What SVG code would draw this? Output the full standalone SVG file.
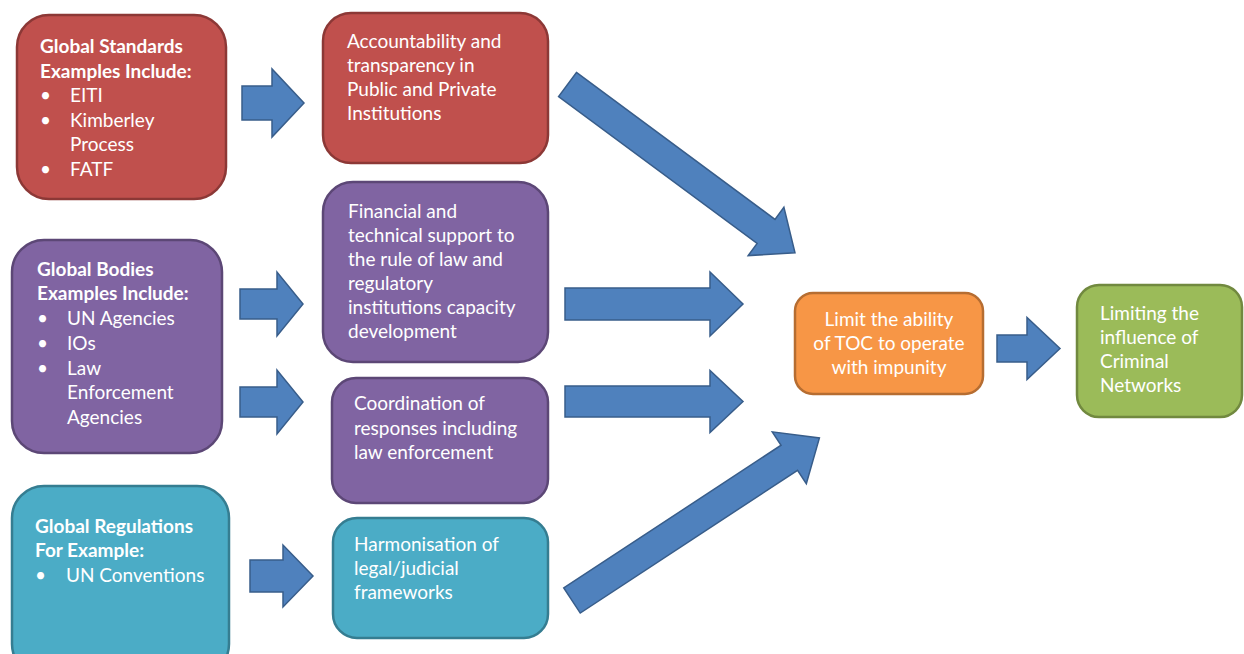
<svg xmlns="http://www.w3.org/2000/svg" width="1244" height="654" viewBox="0 0 1244 654">
<style>
.box{stroke-width:2.5}
.red{fill:#C0504D;stroke:#8C3836}
.pur{fill:#8064A2;stroke:#5C4776}
.teal{fill:#4BACC6;stroke:#357D91}
.org{fill:#F79646;stroke:#B66D31}
.grn{fill:#9BBB59;stroke:#71893F}
text{font-family:Lato,"Liberation Sans",sans-serif;font-size:19px;fill:#FFFFFF}
.b{font-weight:bold}
.c{text-anchor:middle}
.arr{fill:#4F81BD;stroke:#385D8A;stroke-width:1.5;stroke-linejoin:miter}
</style>
<rect width="1244" height="654" fill="#FFFFFF"/>
<g id="connectors">
<polygon class="arr" transform="translate(242,103)" points="0,-17 30,-17 30,-34 62,0 30,34 30,17 0,17"/>
<polygon class="arr" transform="translate(240,304)" points="0,-15 37,-15 37,-32 63,0 37,32 37,15 0,15"/>
<polygon class="arr" transform="translate(240,402)" points="0,-15 37,-15 37,-32 63,0 37,32 37,15 0,15"/>
<polygon class="arr" transform="translate(250,576)" points="0,-16 33,-16 33,-31 63,0 33,31 33,16 0,16"/>
<polygon class="arr" transform="translate(565,304)" points="0,-16 145,-16 145,-32 178,0 145,32 145,16 0,16"/>
<polygon class="arr" transform="translate(565,401.5)" points="0,-15.5 145,-15.5 145,-31 178,0 145,31 145,15.5 0,15.5"/>
<polygon class="arr" transform="translate(997,348.5)" points="0,-13.5 30,-13.5 30,-31 63,0 30,31 30,13.5 0,13.5"/>
<polygon class="arr" transform="translate(567.5,84.5) rotate(36.5)" points="0,-15 247,-15 247,-30 283,0 247,30 247,15 0,15"/>
<polygon class="arr" transform="translate(572,600.5) rotate(-33.3)" points="0,-15 260,-15 260,-31 296,0 260,31 260,15 0,15"/>
</g>
<g id="global-standards">
<rect class="box red" x="17" y="15" width="209" height="184" rx="32"/>
<text class="b" x="40" y="53">Global Standards</text>
<text class="b" x="40" y="78">Examples Include:</text>
<text x="40" y="102">•</text><text x="70" y="102">EITI</text>
<text x="40" y="127">•</text><text x="70" y="127">Kimberley</text>
<text x="70" y="151">Process</text>
<text x="40" y="176">•</text><text x="70" y="176">FATF</text>
</g>
<g id="accountability">
<rect class="box red" x="323" y="13" width="225" height="150" rx="28"/>
<text x="347" y="48">Accountability and</text>
<text x="347" y="72">transparency in</text>
<text x="347" y="96">Public and Private</text>
<text x="347" y="120">Institutions</text>
</g>
<g id="global-bodies">
<rect class="box pur" x="12" y="240" width="210" height="213" rx="32"/>
<text class="b" x="37" y="276">Global Bodies</text>
<text class="b" x="37" y="300">Examples Include:</text>
<text x="37" y="325">•</text><text x="67" y="325">UN Agencies</text>
<text x="37" y="350">•</text><text x="67" y="350">IOs</text>
<text x="37" y="375">•</text><text x="67" y="375">Law</text>
<text x="67" y="399">Enforcement</text>
<text x="67" y="424">Agencies</text>
</g>
<g id="financial-support">
<rect class="box pur" x="323" y="182" width="225" height="180" rx="30"/>
<text x="348" y="218">Financial and</text>
<text x="348" y="242">technical support to</text>
<text x="348" y="266">the rule of law and</text>
<text x="348" y="290">regulatory</text>
<text x="348" y="314">institutions capacity</text>
<text x="348" y="338">development</text>
</g>
<g id="coordination">
<rect class="box pur" x="332" y="378" width="216" height="125" rx="24"/>
<text x="354" y="410">Coordination of</text>
<text x="354" y="435">responses including</text>
<text x="354" y="459">law enforcement</text>
</g>
<g id="global-regulations">
<rect class="box teal" x="12" y="486" width="217" height="190" rx="32"/>
<text class="b" x="35" y="533">Global Regulations</text>
<text class="b" x="35" y="557">For Example:</text>
<text x="35" y="582">•</text><text x="66" y="582">UN Conventions</text>
</g>
<g id="harmonisation">
<rect class="box teal" x="333" y="518" width="215" height="120" rx="24"/>
<text x="354" y="551">Harmonisation of</text>
<text x="354" y="575">legal/judicial</text>
<text x="354" y="599">frameworks</text>
</g>
<g id="limit-toc">
<rect class="box org" x="795" y="293" width="188" height="101" rx="18"/>
<text class="c" x="889" y="326">Limit the ability</text>
<text class="c" x="889" y="350">of TOC to operate</text>
<text class="c" x="889" y="374">with impunity</text>
</g>
<g id="limiting-influence">
<rect class="box grn" x="1077" y="285" width="165" height="132" rx="22"/>
<text x="1100" y="320">Limiting the</text>
<text x="1100" y="344">influence of</text>
<text x="1100" y="368">Criminal</text>
<text x="1100" y="392">Networks</text>
</g>
</svg>
